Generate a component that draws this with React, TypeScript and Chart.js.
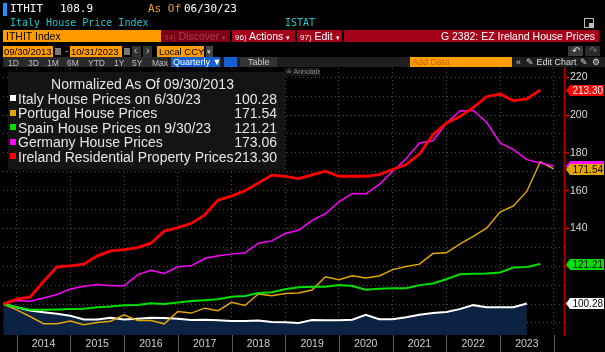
import React, { useEffect, useRef } from 'react';
import { Chart, registerables } from 'chart.js';

Chart.register(...registerables);

// Quarter-end observations, first one on 09/30/2013 (decimal year 2013.75), one per quarter
const firstQuarterEnd = 2013.75;
const yearLabels = ['2014', '2015', '2016', '2017', '2018', '2019', '2020', '2021', '2022', '2023'];
const yTickValues = [90, 100, 110, 120, 130, 140, 150, 160, 170, 180, 190, 200, 210, 220];

const italy = [100, 98.3, 96.6, 95.7, 94.8, 93.8, 91.8, 91.8, 92.7, 91.8, 92.2, 92.7, 92.6, 92.2, 91.5, 91.7, 91.4, 91.0, 91.0, 91.3, 90.5, 90.3, 90.0, 91.5, 91.4, 91.4, 91.7, 94.3, 91.9, 92.0, 93.0, 94.3, 95.3, 95.8, 97.3, 99.4, 98.3, 98.3, 98.3, 100.28];
const portugal = [100, 96.9, 93.4, 89.6, 89.6, 91.0, 89.0, 90.2, 90.9, 94.3, 91.3, 91.3, 89.5, 96.0, 95.2, 97.8, 96.5, 100.9, 99.2, 105.3, 104.4, 105.6, 105.8, 107.4, 114.4, 112.9, 115.0, 113.8, 114.8, 118.2, 119.8, 121.1, 126.7, 127.1, 131.7, 135.8, 140.1, 148.7, 151.9, 159.7, 175.3, 171.54];
const spain = [100, 98.3, 97.0, 96.9, 97.1, 97.4, 97.5, 98.3, 98.7, 99.4, 99.5, 100.4, 100.0, 100.8, 101.6, 102.0, 102.5, 103.8, 104.3, 105.8, 106.2, 107.8, 108.9, 109.2, 109.2, 110.1, 109.5, 107.6, 108.1, 108.3, 108.3, 110.0, 110.9, 113.1, 115.7, 116.0, 116.1, 116.7, 119.3, 119.6, 121.21];
const germany = [100, 101.8, 101.5, 103.2, 105.0, 108.0, 109.4, 110.3, 109.7, 109.6, 115.4, 117.9, 116.2, 119.7, 120.2, 124.1, 125.5, 126.4, 127.1, 132.2, 133.4, 137.3, 139.0, 144.3, 147.8, 154.1, 158.5, 158.3, 163.2, 170.3, 176.9, 185.2, 186.4, 195.7, 202.2, 202.4, 196.2, 185.2, 181.7, 176.4, 174.6, 173.06];
const ireland = [100, 102.6, 103.6, 112.0, 119.7, 120.2, 121.1, 125.5, 128.1, 128.8, 129.9, 132.2, 138.6, 140.4, 142.7, 147.1, 155.0, 157.1, 160.0, 164.0, 168.2, 167.5, 166.4, 168.3, 170.3, 167.6, 167.6, 167.6, 168.5, 171.2, 173.8, 179.4, 189.6, 195.7, 199.2, 203.9, 209.7, 211.1, 207.6, 208.5, 213.3];

const seriesNames = [
  'Italy House Prices on 6/30/23',
  'Portugal House Prices',
  'Spain House Prices on 9/30/23',
  'Germany House Prices',
  'Ireland Residential Property Prices',
];
const seriesColors = ['#ffffff', '#e3a600', '#00e000', '#ff00ff', '#ff0000'];
const seriesData = [italy, portugal, spain, germany, ireland];

const SANS = '"Liberation Sans", Arial, sans-serif';
const MONO = '"DejaVu Sans Mono", "Liberation Mono", monospace';

const toPoints = (arr: number[]) => arr.map((v, i) => ({ x: firstQuarterEnd + 0.25 * i, y: v }));
const last = (arr: number[]) => arr[arr.length - 1];

const tagPlugin = {
  id: 'bbTags',
  afterDraw(chart: any) {
    const { ctx, chartArea, scales } = chart;
    ctx.save();
    ctx.strokeStyle = '#5c5c5c';
    ctx.lineWidth = 1;
    for (let y = 2014; y <= 2024; y++) {
      const px = Math.round(scales.x.getPixelForValue(y)) + 0.5;
      ctx.beginPath();
      ctx.moveTo(px, chartArea.bottom);
      ctx.lineTo(px, chart.height);
      ctx.stroke();
    }
    const order = [4, 3, 1, 2, 0];
    const fg = ['#000', '#000', '#000', '#ff00ff', '#fff'];
    order.forEach((k) => {
      const v = last(seriesData[k]);
      const py = Math.round(scales.y.getPixelForValue(v)) + 0.5;
      const x0 = chartArea.right + 1;
      const h = 11;
      const a = 4;
      const w = 34;
      ctx.fillStyle = seriesColors[k];
      ctx.beginPath();
      ctx.moveTo(x0, py);
      ctx.lineTo(x0 + a, py - h / 2);
      ctx.lineTo(x0 + a + w, py - h / 2);
      ctx.lineTo(x0 + a + w, py + h / 2);
      ctx.lineTo(x0 + a, py + h / 2);
      ctx.closePath();
      ctx.fill();
      ctx.fillStyle = fg[k];
      ctx.font = '10px ' + SANS;
      ctx.textAlign = 'right';
      ctx.textBaseline = 'middle';
      ctx.fillText(v.toFixed(2), x0 + a + w - 1, py + 0.5);
    });
    ctx.restore();
  },
};

function Box(props: any) {
  const { l, t, w, h, bg, children, style } = props;
  return (
    <div style={{ position: 'absolute', left: l, top: t, width: w, height: h, background: bg, overflow: 'hidden', ...style }}>
      {children}
    </div>
  );
}

function Txt(props: any) {
  const { l, t, size, color, children, style, font } = props;
  return (
    <div style={{ position: 'absolute', left: l, top: t, fontSize: size, color, lineHeight: 1, whiteSpace: 'nowrap', fontFamily: font || SANS, ...style }}>
      {children}
    </div>
  );
}

export default function App() {
  const canvasRef = useRef<HTMLCanvasElement | null>(null);

  useEffect(() => {
    const canvas = canvasRef.current;
    if (!canvas) return;
    const datasets = [4, 3, 2, 1, 0].map((k) => ({
      label: seriesNames[k],
      data: toPoints(seriesData[k]),
      borderColor: seriesColors[k],
      borderWidth: [2, 1.5, 2, 1.5, 2.8][k],
      backgroundColor: k === 0 ? '#0b2243' : 'transparent',
      fill: k === 0 ? 'start' : false,
      pointRadius: 0,
      tension: 0,
    }));
    const chart = new Chart(canvas, {
      type: 'line',
      data: { datasets },
      plugins: [tagPlugin],
      options: {
        animation: false,
        responsive: false,
        maintainAspectRatio: false,
        layout: { padding: { top: 68, left: 3, right: 0, bottom: 0 } },
        plugins: { legend: { display: false }, tooltip: { enabled: false } },
        scales: {
          x: {
            type: 'linear',
            min: 2013.745,
            max: 2024.21,
            afterBuildTicks: (s: any) => {
              const t: any[] = [];
              yearLabels.forEach((y) => {
                t.push({ value: Number(y) });
                t.push({ value: Number(y) + 0.5 });
              });
              t.push({ value: 2024 });
              s.ticks = t;
            },
            afterFit: (s: any) => {
              s.height = 17;
            },
            grid: {
              color: (c: any) => (c.tick && Number.isInteger(c.tick.value) ? '#4a4a4a' : 'rgba(0,0,0,0)'),
              drawTicks: false,
              lineWidth: 1,
            },
            border: { display: false, dash: [1, 3] },
            ticks: {
              autoSkip: false,
              maxRotation: 0,
              padding: 3,
              color: '#cfcfcf',
              font: { family: SANS, size: 10.5 },
              callback: (v: any) => (Math.abs((v % 1) - 0.5) < 1e-6 ? String(Math.floor(v)) : ''),
            },
          },
          y: {
            position: 'right',
            min: 83.6,
            max: 224.9,
            afterBuildTicks: (s: any) => {
              s.ticks = yTickValues.map((v) => ({ value: v }));
            },
            afterFit: (s: any) => {
              s.width = 40;
            },
            grid: {
              color: '#4a4a4a',
              lineWidth: 1,
              drawTicks: true,
              tickLength: 4,
              tickWidth: 1.5,
              tickColor: (c: any) => (c.tick && c.tick.value % 20 === 0 ? '#e00000' : 'rgba(0,0,0,0)'),
            },
            border: { display: true, color: '#b00000', width: 1.5, dash: [1, 3] },
            ticks: {
              padding: 1,
              color: '#dcdcdc',
              font: { family: SANS, size: 10.5 },
              callback: (v: any) => (v % 20 === 0 ? String(v) : ''),
            },
          },
        },
      } as any,
    });
    return () => chart.destroy();
  }, []);

  const orange = '#ff9c00';
  const red = '#a50019';
  const legendRows = [0, 1, 2, 3, 4];

  return (
    <div style={{ position: 'fixed', left: 0, top: 0, width: 605, height: 352, background: '#000', overflow: 'hidden', fontFamily: SANS }}>
      <canvas ref={canvasRef} width={605} height={352} style={{ position: 'absolute', left: 0, top: 0, width: 605, height: 352 }} />

      {/* Row 1 */}
      <Box l={3} t={3} w={4} h={13} bg="#1e8fff" />
      <Txt l={10} t={3} size={11} color="#fff" font={MONO}>ITHIT</Txt>
      <Txt l={60} t={3} size={11} color="#fff" font={MONO}>108.9</Txt>
      <Txt l={148} t={3} size={11} color="#f0a030" font={MONO}>As Of</Txt>
      <Txt l={184} t={3} size={11} color="#fff" font={MONO}>06/30/23</Txt>

      {/* Row 2 */}
      <Txt l={10} t={17.5} size={10} color="#1ec6d0" font={MONO}>Italy House Price Index</Txt>
      <Txt l={285} t={17.5} size={10} color="#1ec6d0" font={MONO}>ISTAT</Txt>
      <Box l={584} t={18} w={8} h={8} bg="transparent" style={{ border: '1px solid #bbb' }} />
      <Box l={589} t={23} w={5} h={5} bg="#bbb" />

      {/* Row 3 */}
      <Box l={3} t={30} w={158} h={12} bg={orange}>
        <Txt l={3} t={1} size={10.5} color="#000">ITHIT Index</Txt>
      </Box>
      <Box l={161} t={30} w={69} h={12} bg="#7c0013">
        <Txt l={3} t={1} size={10.5} color="#a8404f"><span style={{ fontSize: 8 }}>94)</span> Discover <span style={{ fontSize: 7 }}>▾</span></Txt>
      </Box>
      <Box l={232} t={30} w={63} h={12} bg={red}>
        <Txt l={3} t={1} size={10.5} color="#fff"><span style={{ fontSize: 8 }}>96)</span> Actions <span style={{ fontSize: 7 }}>▾</span></Txt>
      </Box>
      <Box l={297} t={30} w={45} h={12} bg={red}>
        <Txt l={3} t={1} size={10.5} color="#fff"><span style={{ fontSize: 8 }}>97)</span> Edit <span style={{ fontSize: 7 }}>▾</span></Txt>
      </Box>
      <Box l={344} t={30} w={255} h={12} bg={red}>
        <Txt l={0} t={1} size={10.5} color="#fff" style={{ left: 'auto', right: 4 }}>G 2382: EZ Ireland House Prices</Txt>
      </Box>

      {/* Row 4 */}
      <Box l={3} t={46} w={50} h={11} bg={orange}>
        <Txt l={1} t={1} size={9.5} color="#000">09/30/2013</Txt>
      </Box>
      <Box l={55} t={48} w={6} h={7} bg="#777" />
      <Txt l={65} t={46} size={10} color="#aaa">-</Txt>
      <Box l={70} t={46} w={52} h={11} bg={orange}>
        <Txt l={1} t={1} size={9.5} color="#000">10/31/2023</Txt>
      </Box>
      <Box l={124} t={48} w={6} h={7} bg="#777" />
      <Box l={132} t={46} w={9} h={11} bg="#333">
        <Txt l={2} t={0} size={10} color="#ccc">‹</Txt>
      </Box>
      <Box l={143} t={46} w={9} h={11} bg="#333">
        <Txt l={3} t={0} size={10} color="#ccc">›</Txt>
      </Box>
      <Box l={157} t={46} w={47} h={11} bg={orange}>
        <Txt l={2} t={1} size={9.5} color="#000">Local CCY</Txt>
      </Box>
      <Box l={206} t={46} w={7} h={11} bg="#444">
        <Txt l={1} t={2} size={7} color="#ccc">▾</Txt>
      </Box>
      <Box l={568} t={46} w={15} h={10} bg="#3a3a3a">
        <Txt l={4} t={0} size={10} color="#ddd">↶</Txt>
      </Box>
      <Box l={585} t={46} w={15} h={10} bg="#2a2a2a">
        <Txt l={4} t={0} size={10} color="#777">↷</Txt>
      </Box>

      {/* Row 5 */}
      <Box l={3} t={57} w={602} h={10} bg="#1e1e1e" />
      <Box l={3} t={57} w={165} h={10} bg="#2a2a2a" />
      {[['1D', 8], ['3D', 28], ['1M', 47], ['6M', 67], ['YTD', 88], ['1Y', 114], ['5Y', 132], ['Max', 152]].map(([s, x]) => (
        <Txt key={s as string} l={x} t={58.5} size={8.5} color="#bdbdbd">{s}</Txt>
      ))}
      <Box l={171} t={57} w={49} h={10} bg="#1560d0">
        <Txt l={2} t={1} size={9} color="#fff">Quarterly ▼</Txt>
      </Box>
      <Box l={224} t={57} w={13} h={10} bg="#1560d0" />
      <Box l={240} t={57} w={37} h={10} bg="#333">
        <Txt l={8} t={1} size={9} color="#ccc">Table</Txt>
      </Box>
      <Box l={410} t={57} w={102} h={10} bg={orange}>
        <Txt l={2} t={1} size={9} color="#c06800">Add Data</Txt>
      </Box>
      <Txt l={516} t={57.5} size={9} color="#ccc">«</Txt>
      <Txt l={526} t={58} size={9} color="#ddd">✎ Edit Chart</Txt>
      <Txt l={580} t={58} size={9} color="#ddd">✎</Txt>
      <Txt l={592} t={58} size={9} color="#ddd">⚙</Txt>

      {/* Annotate tab */}
      <Box l={284} t={68} w={36} h={8} bg="#161616">
        <Txt l={2} t={0} size={7} color="#888">≟ Annotate</Txt>
      </Box>

      {/* Legend */}
      <Box l={8} t={72} w={277} h={98} bg="#141414" />
      <Txt l={0} t={77} size={14} color="#e6e6e6" style={{ width: 285, textAlign: 'center', left: 0 }}>Normalized As Of 09/30/2013</Txt>
      {legendRows.map((k, r) => (
        <React.Fragment key={k}>
          <Box l={10} t={95 + r * 14.6} w={6} h={6} bg={seriesColors[k]} />
          <Txt l={18} t={91.5 + r * 14.6} size={14} color="#e6e6e6">{seriesNames[k]}</Txt>
          <Txt l={0} t={91.5 + r * 14.6} size={14} color="#e6e6e6" style={{ left: 'auto', right: 605 - 277, textAlign: 'right' }}>{last(seriesData[k]).toFixed(2)}</Txt>
        </React.Fragment>
      ))}
    </div>
  );
}
